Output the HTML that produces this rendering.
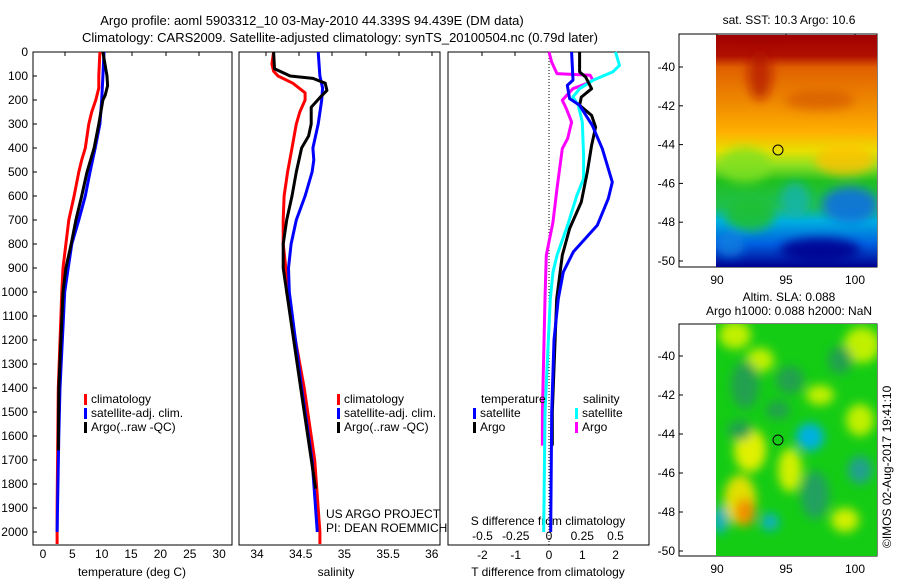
<!DOCTYPE html>
<html><head><meta charset="utf-8"><style>
body{margin:0;background:#fff;}
svg{display:block;font-family:"Liberation Sans",sans-serif;}
text{font-size:12px;fill:#000;}
</style></head><body>
<svg id="c" width="900" height="580" viewBox="0 0 900 580">
<defs>
<linearGradient id="sst" x1="0" y1="0" x2="0" y2="1">
<stop offset="0" stop-color="#a00000"/><stop offset="0.09" stop-color="#b01000"/>
<stop offset="0.14" stop-color="#e06000"/><stop offset="0.3" stop-color="#f08c00"/>
<stop offset="0.42" stop-color="#ffb000"/><stop offset="0.5" stop-color="#e8e000"/>
<stop offset="0.56" stop-color="#90e020"/><stop offset="0.63" stop-color="#20c020"/>
<stop offset="0.74" stop-color="#20c050"/>
<stop offset="0.8" stop-color="#00b0e0"/><stop offset="0.9" stop-color="#0060e0"/>
<stop offset="1" stop-color="#000090"/></linearGradient>
<filter id="bl"><feGaussianBlur stdDeviation="5"/></filter>
<clipPath id="c1"><rect x="716" y="35" width="161" height="232"/></clipPath>
<clipPath id="c2"><rect x="716" y="324" width="161" height="232"/></clipPath>
</defs>
<text x="312" y="25" text-anchor="middle" style="font-size:13px">Argo profile: aoml 5903312_10 03-May-2010 44.339S 94.439E (DM data)</text>
<text x="340" y="42" text-anchor="middle" style="font-size:13px">Climatology: CARS2009. Satellite-adjusted climatology: synTS_20100504.nc (0.79d later)</text>
<g id="g"></g>
<g clip-path="url(#c1)">
<rect x="716" y="35" width="161" height="232" fill="url(#sst)"/>
<g filter="url(#bl)">
<ellipse cx="760" cy="75" rx="12" ry="25" fill="#b01000" opacity="0.7"/>
<ellipse cx="820" cy="100" rx="35" ry="10" fill="#d05000" opacity="0.6"/>
<ellipse cx="745" cy="165" rx="25" ry="18" fill="#80e020" opacity="0.8"/>
<ellipse cx="845" cy="160" rx="30" ry="15" fill="#ffc000" opacity="0.8"/>
<ellipse cx="850" cy="205" rx="28" ry="18" fill="#1070e0" opacity="0.9"/>
<ellipse cx="750" cy="215" rx="25" ry="16" fill="#20c030" opacity="0.9"/>
<ellipse cx="820" cy="250" rx="40" ry="12" fill="#000090" opacity="0.9"/>
<ellipse cx="795" cy="200" rx="15" ry="18" fill="#10b0c0" opacity="0.7"/>
<ellipse cx="730" cy="245" rx="14" ry="12" fill="#1080e0" opacity="0.8"/>
</g>
<circle cx="778" cy="150" r="5" fill="none" stroke="#000"/>
</g>
<g clip-path="url(#c2)">
<rect x="716" y="324" width="161" height="232" fill="#14cc14"/>
<g filter="url(#bl)">
<ellipse cx="735" cy="335" rx="16" ry="14" fill="#c0f000"/>
<ellipse cx="862" cy="345" rx="18" ry="18" fill="#c0f000"/>
<ellipse cx="820" cy="395" rx="14" ry="10" fill="#c0f000"/>
<ellipse cx="760" cy="360" rx="14" ry="12" fill="#c0f000"/>
<ellipse cx="745" cy="385" rx="14" ry="24" fill="#20a050"/>
<ellipse cx="790" cy="380" rx="14" ry="14" fill="#20a050"/>
<ellipse cx="840" cy="360" rx="12" ry="14" fill="#20a050"/>
<ellipse cx="810" cy="437" rx="14" ry="14" fill="#00b0e0"/>
<ellipse cx="750" cy="450" rx="16" ry="22" fill="#e0f000"/>
<ellipse cx="790" cy="470" rx="12" ry="22" fill="#d0f000"/>
<ellipse cx="740" cy="500" rx="16" ry="25" fill="#e0e000"/>
<ellipse cx="745" cy="512" rx="10" ry="14" fill="#f09000"/>
<ellipse cx="770" cy="522" rx="9" ry="9" fill="#10b0c0"/>
<ellipse cx="815" cy="495" rx="14" ry="24" fill="#20a060"/>
<ellipse cx="860" cy="470" rx="12" ry="14" fill="#20a090"/>
<ellipse cx="845" cy="520" rx="14" ry="12" fill="#d0f000"/>
<ellipse cx="720" cy="520" rx="8" ry="14" fill="#10b0c0"/>
<ellipse cx="778" cy="410" rx="12" ry="9" fill="#20a050"/>
<ellipse cx="740" cy="430" rx="12" ry="10" fill="#20a050"/>
<ellipse cx="860" cy="420" rx="14" ry="16" fill="#c0f000"/>
</g>
<circle cx="778" cy="440" r="5" fill="none" stroke="#000"/>
</g>
<text x="789" y="24" text-anchor="middle">sat. SST: 10.3 Argo: 10.6</text>
<text x="789" y="301" text-anchor="middle">Altim. SLA: 0.088</text>
<text x="789" y="315" text-anchor="middle">Argo h1000: 0.088 h2000: NaN</text>
<text transform="translate(891,548) rotate(-90)">©IMOS 02-Aug-2017 19:41:10</text>
<text x="326" y="518">US ARGO PROJECT</text>
<text x="326" y="532">PI: DEAN ROEMMICH</text>
</svg>
<script>
const depthsTclim=[0,100,150,200,250,300,400,450,500,600,700,800,900,1000,1400,1900,2050];
const tempClim=[9.7,9.5,9.5,9.0,8.3,7.8,7.2,6.6,6.1,5.3,4.4,3.9,3.4,3.2,2.6,2.4,2.4];
const depthsTsat=[0,100,200,300,400,500,600,700,800,900,1000,1400,1600,2000];
const tempSat=[10.4,10.2,10.0,9.7,8.9,8.0,7.2,6.1,4.9,4.3,3.7,2.9,2.7,2.4];
const depthsTargo=[0,100,140,180,200,300,400,500,600,700,800,900,1000,1400,1660];
const tempArgo=[10.2,10.9,11.0,10.6,10.2,9.5,8.7,7.5,6.6,5.6,4.8,3.9,3.4,2.7,2.6];
const depthsSclim=[0,50,80,100,130,170,200,250,300,400,500,600,700,800,900,1000,1400,1700,2000,2050];
const salClim=[34.19,34.17,34.19,34.24,34.41,34.55,34.55,34.49,34.45,34.40,34.35,34.31,34.30,34.30,34.33,34.34,34.54,34.66,34.72,34.72];
const depthsSsat=[0,100,150,200,300,400,450,500,600,700,800,900,1000,1400,1700,2000];
const salSat=[34.70,34.72,34.75,34.74,34.70,34.64,34.65,34.63,34.55,34.45,34.39,34.36,34.37,34.51,34.63,34.69];
const depthsSargo=[0,70,100,110,130,160,190,230,300,350,400,500,600,700,800,900,1000,1400,1820];
const salArgo=[34.19,34.20,34.38,34.64,34.78,34.80,34.72,34.62,34.62,34.59,34.51,34.45,34.40,34.34,34.30,34.30,34.34,34.50,34.67];
const depthsDT1=[0,117,139,194,222,306,403,542,611,722,833,917,1028,1200,1500,2000];
const dTsat=[0.68,0.72,0.55,0.62,0.92,1.3,1.6,1.9,1.78,1.45,0.73,0.43,0.28,0.15,0.08,0.05];
const depthsDT2=[0,83,104,153,188,222,264,313,389,500,625,736,847,1028,1500,1640];
const dTargo=[0.92,0.92,1.1,1.28,0.97,0.92,1.28,1.4,1.28,1.15,0.97,0.62,0.4,0.23,0.1,0.1];
const depthsDS1=[0,56,83,118,153,188,222,292,431,528,597,722,847,917,1028,1500,2000];
const dSsat=[0.5,0.53,0.48,0.33,0.23,0.18,0.22,0.25,0.26,0.26,0.21,0.14,0.06,0.03,0.01,-0.03,-0.04];
const depthsDS2=[0,42,90,97,118,132,153,201,236,292,361,403,569,708,847,1028,1500,1640];
const dSargo=[0,0.02,0.06,0.31,0.33,0.28,0.18,0.1,0.13,0.17,0.14,0.1,0.06,0.03,-0.02,-0.03,-0.05,-0.05];
const depthTicks=[0,100,200,300,400,500,600,700,800,900,1000,1100,1200,1300,1400,1500,1600,1700,1800,1900,2000];
const tempTicks=[0,5,10,15,20,25,30];
const salTicks=[34,34.5,35,35.5,36];
const dTTicks=[-2,-1,0,1,2];
const dSTicks=[-0.5,-0.25,0,0.25,0.5];
const latTicks=[-40,-42,-44,-46,-48,-50];
const lonTicks=[90,95,100];

const NS='http://www.w3.org/2000/svg';
const g=document.getElementById('g');
function el(t,a,txt,parent){const e=document.createElementNS(NS,t);for(const k in a)e.setAttribute(k,a[k]);if(txt!==undefined)e.textContent=txt;(parent||g).appendChild(e);return e;}
const yD=d=>52+0.24*d;
const xT=t=>43+5.87*t;
const xS=s=>257+87.4*(s-34);
const xDT=v=>549+33.3*v;
const xDS=v=>549+133*v;
const panels=[[33,232],[239,440],[448,649]];
panels.forEach((p,i)=>{
  const r=el('rect',{x:p[0],y:52,width:p[1]-p[0],height:493,fill:'none',stroke:'#000'});
  
  
});
[[65,99,132,166,199],[266,299,332,366,399,432],[482,515]].forEach(a=>a.forEach(x=>el('line',{x1:x,x2:x,y1:52,y2:56,stroke:'#000'})));
depthTicks.forEach(d=>{
  el('line',{x1:33,x2:37,y1:yD(d),y2:yD(d),stroke:'#000'});
  const t=el('text',{x:28,y:yD(d)+4,'text-anchor':'end'},String(d));
  
  
});
tempTicks.forEach(v=>{const t=el('text',{x:xT(v),y:558,'text-anchor':'middle'},String(v));
  
  });
salTicks.forEach(v=>{const t=el('text',{x:xS(v),y:558,'text-anchor':'middle'},String(v));
  
  });
dTTicks.forEach(v=>{const t=el('text',{x:xDT(v),y:559,'text-anchor':'middle'},String(v));
  
  });
dSTicks.forEach(v=>{const t=el('text',{x:xDS(v),y:540,'text-anchor':'middle'},String(v));
  
  });
let t;
t=el('text',{x:132,y:576,'text-anchor':'middle'},'temperature (deg C)');


t=el('text',{x:336,y:576,'text-anchor':'middle'},'salinity');


t=el('text',{x:548,y:576,'text-anchor':'middle'},'T difference from climatology');


t=el('text',{x:548,y:525,'text-anchor':'middle'},'S difference from climatology');


el('line',{x1:549,x2:549,y1:52,y2:545,stroke:'#000','stroke-dasharray':'1,2'});
function line(ds,vs,fx,col,name){
  const pts=ds.map((d,i)=>fx(vs[i]).toFixed(1)+','+yD(d).toFixed(1)).join(' ');
  const p=el('polyline',{points:pts,fill:'none',stroke:col,'stroke-width':3,'stroke-linejoin':'round'});
  
  
}
line(depthsTclim,tempClim,xT,'#f00','temp-climatology-line');
line(depthsTsat,tempSat,xT,'#00f','temp-satellite-line');
line(depthsTargo,tempArgo,xT,'#000','temp-argo-line');
line(depthsSclim,salClim,xS,'#f00','sal-climatology-line');
line(depthsSsat,salSat,xS,'#00f','sal-satellite-line');
line(depthsSargo,salArgo,xS,'#000','sal-argo-line');
line(depthsDS2,dSargo,xDS,'#f0f','s-diff-argo-line');
line(depthsDS1,dSsat,xDS,'#0ff','s-diff-satellite-line');
line(depthsDT2,dTargo,xDT,'#000','t-diff-argo-line');
line(depthsDT1,dTsat,xDT,'#00f','t-diff-satellite-line');
function leg(x,y,col,txt,name){
  const r=el('rect',{x:x,y:y-9,width:3,height:11,fill:col});
  
  
  const tt=el('text',{x:x+7,y:y},txt);
  
  
}
[[84],[337]].forEach((p,i)=>{
  leg(p[0],403,'#f00','climatology','legend-climatology-'+(i+1));
  leg(p[0],417,'#00f','satellite-adj. clim.','legend-satellite-'+(i+1));
  leg(p[0],431,'#000','Argo(..raw -QC)','legend-argo-'+(i+1));
});
t=el('text',{x:481,y:403},'temperature');


t=el('text',{x:583,y:403},'salinity');


leg(473,417,'#00f','satellite','legend-t-satellite');
leg(473,431,'#000','Argo','legend-t-argo');
leg(575,417,'#0ff','satellite','legend-s-satellite');
leg(575,431,'#f0f','Argo','legend-s-argo');
function mapAxes(top,bot,latY,name){
  const r=el('rect',{x:679,y:top,width:198,height:bot-top,fill:'none',stroke:'#000'});
  
  
  latTicks.forEach(v=>{const y=latY(v);
    el('line',{x1:679,x2:683,y1:y,y2:y,stroke:'#000'});
    el('line',{x1:873,x2:877,y1:y,y2:y,stroke:'#000'});
    const tt=el('text',{x:675,y:y+4,'text-anchor':'end'},String(v));
    
    });
  lonTicks.forEach(v=>{const x=717+13.8*(v-90);
    el('line',{x1:x,x2:x,y1:bot,y2:bot-4,stroke:'#000'});
    el('line',{x1:x,x2:x,y1:top,y2:top+4,stroke:'#000'});
    const tt=el('text',{x:x,y:bot+17,'text-anchor':'middle'},String(v));
    
    });
}
mapAxes(34,267,v=>67+19.4*(-40-v),'sst-map-frame');
mapAxes(324,556,v=>356+19.5*(-40-v),'sla-map-frame');
</script>
</body></html>
